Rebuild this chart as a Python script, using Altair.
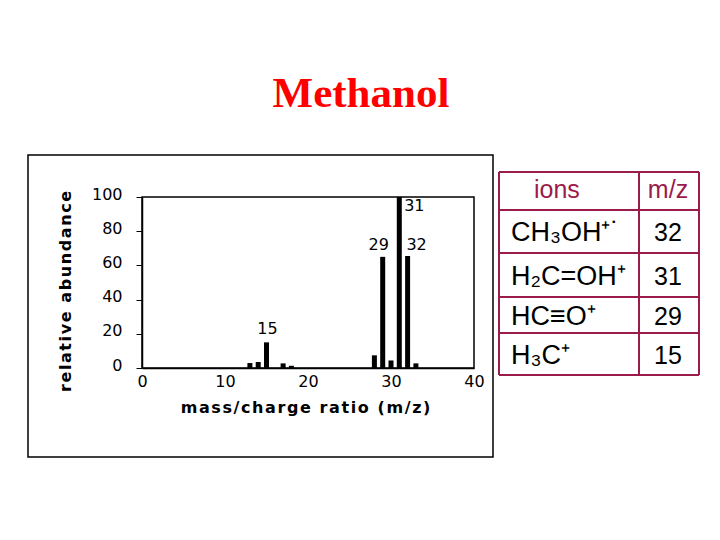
import altair as alt
import pandas as pd

# ---- data ----
mz = [13, 14, 15, 17, 18, 28, 29, 30, 31, 32, 33]
abundance = [2.9, 3.5, 15, 2.7, 1.3, 7.4, 65, 4.4, 100, 65.5, 2.7]
peak_labels = [15, 29, 31, 32]
x_ticks = [0, 10, 20, 30, 40]
y_ticks = [0, 20, 40, 60, 80, 100]
ion_names = ["ions", "CH₃OH⁺˙", "H₂C=OH⁺", "HC≡O⁺", "H₃C⁺"]
ion_mz = ["m/z", "32", "31", "29", "15"]
title_text = "Methanol"

HS = "\u200a"


def spaced(s):
    return HS.join(list(s))


spec = pd.DataFrame({"mz": mz, "abundance": abundance})
W, H = 332, 171

xscale = alt.Scale(domain=[0, 40], nice=False, padding=0, zero=False)
yscale = alt.Scale(domain=[0, 100], nice=False, padding=0)

xaxis = alt.Axis(values=x_ticks, ticks=False, tickSize=0, labelPadding=5,
                 labelOverlap=False, labelFlush=False,
                 labelFont="DejaVu Sans", labelFontSize=16, labelColor="black",
                 grid=False, domainColor="black", domainWidth=1.5,
                 title=spaced("mass/charge ratio (m/z)"), titleFont="DejaVu Sans",
                 titleFontWeight="bold", titleFontSize=16, titleColor="black",
                 titleX=163, titleY=39, titleBaseline="middle", titleAlign="center")
yaxis = alt.Axis(values=y_ticks, tickSize=6, labelPadding=14, labelOffset=-3,
                 labelOverlap=False, labelFlush=False,
                 labelFont="DejaVu Sans", labelFontSize=16, labelColor="black",
                 grid=False, domainColor="black", domainWidth=1.5, tickColor="black",
                 title=spaced("relative abundance"), titleFont="DejaVu Sans",
                 titleFontWeight="bold", titleFontSize=16, titleColor="black",
                 titleAngle=270, titleX=-77, titleY=94, titleBaseline="middle",
                 titleAlign="center")

bars = alt.Chart(spec).mark_bar(color="black", size=5).encode(
    x=alt.X("mz:Q", scale=xscale, axis=xaxis),
    y=alt.Y("abundance:Q", scale=yscale, axis=yaxis),
)

label_offsets = {15: (1, -5), 29: (-4, -4), 31: (15, 17), 32: (9, -3)}
layers = [bars]
for p in peak_labels:
    dx, dy = label_offsets[p]
    sub = spec[spec["mz"] == p].assign(lab=str(p))
    layers.append(
        alt.Chart(sub).mark_text(font="DejaVu Sans", fontSize=16, color="black",
                                 baseline="bottom", align="center", dx=dx, dy=dy).encode(
            x=alt.X("mz:Q", scale=xscale, axis=xaxis),
            y=alt.Y("abundance:Q", scale=yscale, axis=yaxis),
            text="lab:N")
    )

one = pd.DataFrame({"t": [title_text]})
layers.append(alt.Chart(one).mark_text(
    font="Liberation Serif", fontWeight="bold", fontSize=43, color="#ff0000",
    align="center", baseline="alphabetic").encode(
    text="t:N", x=alt.value(219), y=alt.value(-90)))

# outer frame
layers.append(alt.Chart(one).mark_rect(
    fillOpacity=0, stroke="black", strokeWidth=1.5).encode(
    x=alt.value(-114), x2=alt.value(351), y=alt.value(-42), y2=alt.value(260)))

# ---- table (annotation, pixel layout relative to plot origin) ----
maroon = "#9b1b4b"
t_left, t_mid, t_right = 357, 497, 557
row_edges = [-25, 13, 56, 100, 136, 178]
for ye in row_edges:
    layers.append(alt.Chart(one).mark_rule(color=maroon, strokeWidth=2).encode(
        x=alt.value(t_left), x2=alt.value(t_right), y=alt.value(ye)))
for xe in [t_left, t_mid, t_right]:
    layers.append(alt.Chart(one).mark_rule(color=maroon, strokeWidth=2).encode(
        x=alt.value(xe), y=alt.value(row_edges[0]), y2=alt.value(row_edges[-1])))

baselines = [1, 44, 88, 128, 167]
for i, (ion, m) in enumerate(zip(ion_names, ion_mz)):
    d = pd.DataFrame({"ion": [ion], "m": [m]})
    if i == 0:
        layers.append(alt.Chart(d).mark_text(font="Liberation Sans", fontSize=25, color=maroon,
                                             align="left", baseline="alphabetic").encode(
            text="ion:N", x=alt.value(t_left + 35), y=alt.value(baselines[i])))
        layers.append(alt.Chart(d).mark_text(font="Liberation Sans", fontSize=25, color=maroon,
                                             align="center", baseline="alphabetic").encode(
            text="m:N", x=alt.value(t_left + 169), y=alt.value(baselines[i])))
    else:
        layers.append(alt.Chart(d).mark_text(font="Liberation Sans", fontSize=27, color="black",
                                             align="left", baseline="alphabetic").encode(
            text="ion:N", x=alt.value(t_left + 12), y=alt.value(baselines[i])))
        layers.append(alt.Chart(d).mark_text(font="Liberation Sans", fontSize=25, color="black",
                                             align="center", baseline="alphabetic").encode(
            text="m:N", x=alt.value(t_left + 169), y=alt.value(baselines[i])))

chart = alt.layer(*layers).properties(
    width=W, height=H,
    autosize="none",
    padding={"left": 134, "top": 189, "right": 238, "bottom": 164},
    background="white",
).configure_view(stroke="black", strokeWidth=1.5)

chart.save("out.html", embed_options={"renderer": "svg", "actions": False})
